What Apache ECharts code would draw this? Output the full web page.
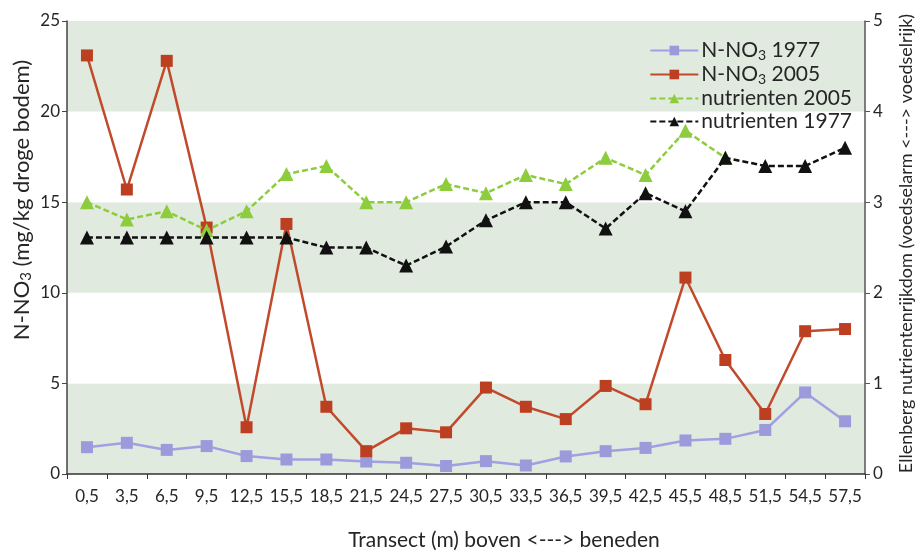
<!DOCTYPE html>
<html><head><meta charset="utf-8">
<script src="https://cdn.jsdelivr.net/npm/echarts@6/dist/echarts.min.js"></script>
<style>html,body{margin:0;padding:0;background:#fff}#c{width:923px;height:556px}</style>
</head><body><div id="c"></div>
<script>
const categories = ['0,5','3,5','6,5','9,5','12,5','15,5','18,5','21,5','24,5','27,5','30,5','33,5','36,5','39,5','42,5','45,5','48,5','51,5','54,5','57,5'];
const no3_1977 = [1.48,1.72,1.33,1.54,0.99,0.8,0.8,0.69,0.62,0.44,0.71,0.47,0.97,1.26,1.44,1.85,1.94,2.43,4.5,2.91];
const no3_2005 = [23.1,15.7,22.8,13.6,2.58,13.8,3.71,1.26,2.52,2.3,4.77,3.71,3.03,4.86,3.85,10.84,6.29,3.31,7.88,8.0];
const nutr_2005 = [3.0,2.81,2.9,2.69,2.9,3.31,3.4,3.0,3.0,3.2,3.1,3.3,3.2,3.49,3.3,3.79,3.49,null,null,null];
const nutr_1977 = [2.61,2.61,2.61,2.61,2.61,2.61,2.5,2.5,2.3,2.51,2.8,3.0,3.0,2.71,3.1,2.9,3.49,3.4,3.4,3.6];
const leftTicks = [0,5,10,15,20,25];
const rightTicks = [0,1,2,3,4,5];

const FONT = 'Lato';
const txt = '#262626';
const chart = echarts.init(document.getElementById('c'));
chart.setOption({
  animation:false,
  textStyle:{fontFamily:FONT},
  grid:{left:67,right:56,top:21,bottom:79},
  graphic:[{
    type:'text', x:22, y:200, rotation:Math.PI/2,
    style:{
      text:'N-NO{s|3} (mg/kg droge bodem)', fontSize:22, fontFamily:FONT, fill:txt,
      align:'center', verticalAlign:'middle',
      rich:{s:{fontSize:15, padding:[9,0,0,0], fontFamily:FONT, fill:txt}}
    }
  }],
  legend:{
    right:66, top:35, orient:'vertical', itemGap:2, itemWidth:48, itemHeight:12,
    textStyle:{fontSize:21, color:txt, fontFamily:FONT, padding:[0,0,0,-2],
      rich:{s:{fontSize:14, padding:[9,0,0,0], fontFamily:FONT, color:txt}}},
    formatter: function(n){ return n.replace('NO3','NO{s|3}'); },
    data:['N-NO3 1977','N-NO3 2005','nutrienten 2005','nutrienten 1977']
  },
  xAxis:{
    type:'category', data:categories, boundaryGap:true,
    axisLine:{lineStyle:{color:'#333',width:1.5}},
    axisTick:{show:true, alignWithLabel:false, length:5, lineStyle:{color:'#333'}},
    axisLabel:{fontSize:17, color:txt, margin:14, interval:0, fontFamily:FONT},
    name:'Transect (m) boven <---> beneden', nameLocation:'middle', nameGap:56,
    nameTextStyle:{fontSize:21, color:txt, fontFamily:FONT, padding:[0,0,0,76]}
  },
  yAxis:[{
    type:'value', min:leftTicks[0], max:leftTicks[leftTicks.length-1], interval:5, position:'left',
    axisLine:{show:true, lineStyle:{color:'#444',width:1.5}},
    axisTick:{show:true, length:5, lineStyle:{color:'#444'}},
    axisLabel:{fontSize:17, color:txt, margin:7, fontFamily:FONT},
    splitLine:{show:false},
    splitArea:{show:true, areaStyle:{color:['#e0eadf','#ffffff']}}
  },{
    type:'value', min:rightTicks[0], max:rightTicks[rightTicks.length-1], interval:1, position:'right',
    axisLine:{show:true, lineStyle:{color:'#555',width:1.5}},
    axisTick:{show:true, length:5, lineStyle:{color:'#555'}},
    axisLabel:{fontSize:17, color:txt, margin:8, fontFamily:FONT},
    splitLine:{show:false},
    name:'Ellenberg nutrientenrijkdom (voedselarm <---> voedselrijk)', nameLocation:'middle', nameGap:32, nameRotate:90,
    nameTextStyle:{fontSize:18, color:txt, fontFamily:FONT, padding:[0,0,0,8]}
  }],
  series:[
    {name:'N-NO3 1977', type:'line', data:no3_1977, yAxisIndex:0, symbol:'rect', symbolSize:12,
     lineStyle:{color:'#a0a0e2', width:2.5}, itemStyle:{color:'#9b9bdc'}, z:3},
    {name:'N-NO3 2005', type:'line', data:no3_2005, yAxisIndex:0, symbol:'rect', symbolSize:12,
     lineStyle:{color:'#c24a2c', width:2.5}, itemStyle:{color:'#bd3f22'}, z:4},
    {name:'nutrienten 2005', type:'line', data:nutr_2005, yAxisIndex:1, symbol:'triangle', symbolSize:14,
     lineStyle:{color:'#8dcc3c', width:2.5, type:[6,3]}, itemStyle:{color:'#8dcc3c'}, z:5},
    {name:'nutrienten 1977', type:'line', data:nutr_1977, yAxisIndex:1, symbol:'triangle', symbolSize:14,
     lineStyle:{color:'#111', width:2.5, type:[6,3]}, itemStyle:{color:'#111'}, z:6}
  ]
});
</script></body></html>
